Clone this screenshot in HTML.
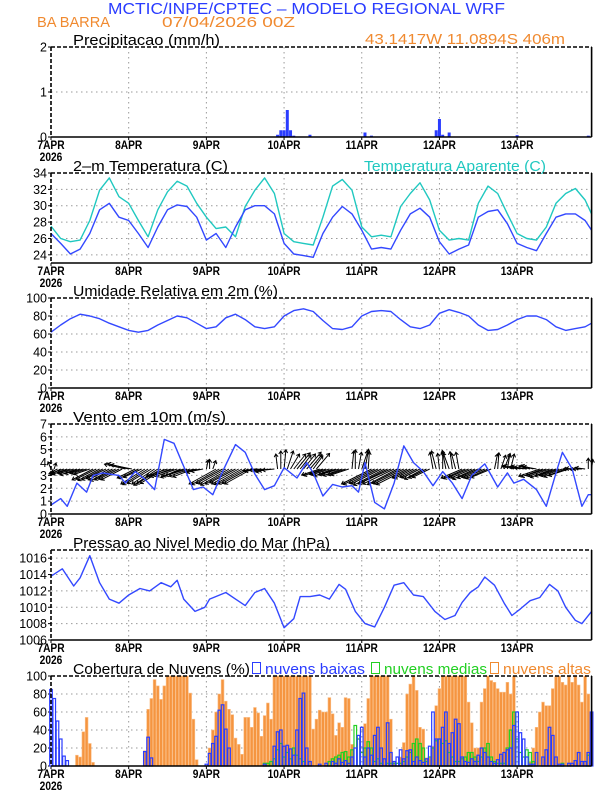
<!DOCTYPE html>
<html><head><meta charset="utf-8"><title>Meteograma WRF</title>
<style>
html,body{margin:0;padding:0;background:#fff}
svg{display:block;font-family:"Liberation Sans",sans-serif}
</style></head>
<body>
<svg id="chart" width="612" height="792" viewBox="0 0 612 792" xmlns="http://www.w3.org/2000/svg">
<rect x="0" y="0" width="612" height="792" fill="#fff"/>
<text x="108" y="14" font-size="16" fill="#2a3cff" textLength="397" lengthAdjust="spacingAndGlyphs">MCTIC/INPE/CPTEC – MODELO REGIONAL WRF</text>
<text x="37" y="27" font-size="15" fill="#f08a30" textLength="73" lengthAdjust="spacingAndGlyphs">BA BARRA</text>
<text x="162" y="27" font-size="15" fill="#f08a30" textLength="133" lengthAdjust="spacingAndGlyphs">07/04/2026 00Z</text>
<text x="73" y="45" font-size="15" fill="#000" textLength="147" lengthAdjust="spacingAndGlyphs">Precipitacao (mm/h)</text>
<text x="365" y="44" font-size="15" fill="#f08a30" textLength="200" lengthAdjust="spacingAndGlyphs">43.1417W 11.0894S 406m</text>
<text x="73" y="171" font-size="15" fill="#000" textLength="155" lengthAdjust="spacingAndGlyphs">2–m Temperatura (C)</text>
<text x="364" y="171" font-size="15" fill="#20c8c0" textLength="182" lengthAdjust="spacingAndGlyphs">Temperatura Aparente (C)</text>
<text x="73" y="296" font-size="15" fill="#000" textLength="205" lengthAdjust="spacingAndGlyphs">Umidade Relativa em 2m (%)</text>
<text x="73" y="422" font-size="15" fill="#000" textLength="153" lengthAdjust="spacingAndGlyphs">Vento em 10m (m/s)</text>
<text x="73" y="548" font-size="15" fill="#000" textLength="257" lengthAdjust="spacingAndGlyphs">Pressao ao Nivel Medio do Mar (hPa)</text>
<text x="73" y="674" font-size="15" fill="#000" textLength="177" lengthAdjust="spacingAndGlyphs">Cobertura de Nuvens (%)</text>
<rect x="252.5" y="662.5" width="8" height="11" fill="none" stroke="#2a3cff"/>
<text x="265" y="674" font-size="15" fill="#2a3cff" textLength="100" lengthAdjust="spacingAndGlyphs">nuvens baixas</text>
<rect x="371.5" y="662.5" width="8" height="11" fill="none" stroke="#22d022"/>
<text x="384" y="674" font-size="15" fill="#22d022" textLength="103" lengthAdjust="spacingAndGlyphs">nuvens medias</text>
<rect x="490.5" y="662.5" width="8" height="11" fill="none" stroke="#f08a30"/>
<text x="503" y="674" font-size="15" fill="#f08a30" textLength="88" lengthAdjust="spacingAndGlyphs">nuvens altas</text>
</svg>
<script>
// ---- data ----
const dayLabels = ['7APR','8APR','9APR','10APR','11APR','12APR','13APR'];
const precipHours = [70,71,72,73,74,75,80,97,99,119,120,121,123,144,166];
const precipValues = [0.05,0.15,0.15,0.6,0.15,0.03,0.05,0.1,0.03,0.15,0.4,0.05,0.1,0.04,0.03];
const lineHours = [0,3,6,9,12,15,18,21,24,27,30,33,36,39,42,45,48,51,54,57,60,63,66,69,72,75,78,81,84,87,90,93,96,99,102,105,108,111,114,117,120,123,126,129,132,135,138,141,144,147,150,153,156,159,162,165,167];
const tempValues = [26.6,25.4,24.1,24.7,26.6,29.5,30.3,28.6,28.2,26.6,24.9,27.4,29.5,30.1,29.9,28.6,25.8,26.6,24.9,27.4,29.5,30,30,29,25.4,24.1,23.9,23.7,26.6,28.6,29.9,29,27,24.7,24.9,24.7,27,29,29.7,28.6,25.6,24.1,24.7,25.2,28.6,29.3,29.5,27.8,25.4,24.9,24.5,26.6,28.6,29,29,28.2,27];
const apparentValues = [27.5,26,25.6,25.8,28.2,31.9,33.4,31.1,30.3,28.2,26.2,29.5,31.7,33,32.4,30.3,28.6,27.2,27.4,26.2,29.9,31.9,33.4,31.5,26.6,25.6,25.4,25.2,28.6,32.4,33.2,31.9,27.4,26.2,26.4,26.2,29.9,31.5,32.8,30.7,27,25.8,26,25.8,30.3,32.4,31.5,29,26.6,26,25.8,27.4,30.3,31.5,32.1,30.7,29];
const humidityValues = [62,70,77,82,80,77,72,68,64,62,64,70,75,80,78,72,66,68,78,82,76,68,66,68,80,86,88,85,75,66,65,68,80,85,86,85,76,68,66,70,83,87,84,80,70,64,65,70,76,80,80,76,68,64,66,68,72];
const windHours = [0,3,5,8,11,13,16,18,21,23,26,29,32,35,38,41,44,47,50,53,57,60,63,66,69,72,76,79,81,84,87,90,93,95,97,100,103,106,109,112,115,118,121,124,127,130,134,138,141,143,146,150,153,156,158,161,164,166,167];
const windSpeed = [0.7,1.2,0.6,2.4,1.7,3.0,3.2,3.1,3.0,2.4,3.3,2.7,1.9,5.8,5.5,3.7,1.9,2.1,1.5,3.3,5.4,4.8,3.1,1.9,2.2,3.6,2.8,4.0,3.2,1.4,2.3,2.1,2.2,1.7,4.0,0.9,0.4,2.4,5.3,4.0,3.3,2.2,3.3,2.4,1.2,3.0,3.9,2.1,3.2,2.4,2.7,1.9,0.6,3.2,4.8,3.5,0.6,1.5,1.5];
const windU = [-0.5,0.3,-1,-1.5,-2.5,-2.5,-2.2,-2.5,-2.8,-2.5,-2.3,-2.5,-2.6,-3.5,-3.4,-3.6,-3.5,-3.3,-3.5,-3.7,-3.5,-3.4,-3.5,-3.5,-3.5,-3.5,-3,-3.2,-3,-4,-4.2,-4,-3.8,-4,-4.1,-4,-3.5,-3.4,-3.6,-3.5,-3.3,-3.5,-3.6,-3.5,-3.4,-2,-2.2,-2,0.3,0,0.5,-4.5,-4.6,-4.4,-4.5,-4.7,-4.5,-4.3,-4.5,-4.6,-4.5,-4.4,-4.5,-2,-2.2,-2,-1.8,-2,-2.1,-2,-0.3,0,0.3,1,1.5,2,2.2,1.8,2,2.4,2,1.6,2.2,-3,-3.2,-2.8,-3,-3.1,-2.9,-3,-3.2,-3,-3,0.3,0,0.5,1,0.6,0.2,-5,-5.2,-4.8,-5,-5.1,-4.9,-5,-5.2,-5,-4.8,-5,-5.1,-3,-3.2,-2.8,-3,-3.1,-3,-2.9,-0.5,-0.8,-0.3,0,-0.6,-1,-0.4,-0.7,-0.5,-3.5,-3.6,-3.4,-3.5,-3.7,-3.5,-3.3,-3.5,-3.6,-3.4,0.5,0.2,0.8,1,0.4,0.6,-2,-2.2,-1.8,-2,-2.1,-1.9,-2,-2.2,-3.5,-3.6,-3.4,-3.5,-3.7,-3.5,-3.3,-3.5,-3.6,-3.4,-1.5,-1.6,-1.4,-1.5,-1.6,0,0.2];
const windV = [1.2,1,-0.5,-0.8,-0.8,-0.9,-0.7,-0.8,-1,-0.8,-0.7,-0.8,-0.9,-1.8,-1.7,-1.9,-1.8,-1.6,-1.8,-2,-1.8,-1.7,-1.8,0.8,0.9,0.7,-1.5,-1.6,-1.4,-2.5,-2.6,-2.4,-2.5,-2.7,-2.5,-2.4,-1.2,-1.3,-1.1,-1.2,-1.4,-1.2,-1.1,-1.2,-1.3,-0.5,-0.6,-0.4,1.5,1.6,1.4,-2.5,-2.6,-2.4,-2.5,-2.7,-2.5,-2.3,-2.5,-2.6,-2.5,-2.4,-2.5,-0.3,-0.4,-0.2,-0.3,-0.5,-0.3,-0.2,2.5,3,3.2,3,2.5,2.5,2.7,2.3,2.5,2.8,2.4,2.2,2.6,-1,-1.1,-0.9,-1,-1.2,-1,-0.9,-1.1,-1,-1,3,3.2,2.8,3,3.3,2.9,-2.5,-2.6,-2.4,-2.5,-2.7,-2.5,-2.3,-2.5,-2.6,-2.4,-2.5,-2.6,-1.5,-1.6,-1.4,-1.5,-1.7,-1.5,-1.4,2.8,3,2.6,2.8,3.1,2.7,2.9,2.6,2.8,-1.5,-1.6,-1.4,-1.5,-1.7,-1.5,-1.4,-1.5,-1.6,-1.4,2.5,2.7,2.3,2.6,2.4,2.5,0.5,0.6,0.4,0.5,0.3,0.5,0.6,0.4,-1.2,-1.3,-1.1,-1.2,-1.4,-1.2,-1.1,-1.2,-1.3,-1.1,0,0.1,-0.1,0,0.2,1.8,1.6];
const pressureHours = [0,3.5,7,9,12,15,18,21,24,27.5,30.5,34,37,39,41,44.5,47.5,49,54,57,60,63,66,69,72,75,77,80,83,86,89,91,94,97,100,103,106,109,112,115,118.6,121.7,124.8,127,129.5,132,134,137,140,142.4,145,148,151,154,156.6,159,162,164,167];
const pressureValues = [1013.8,1014.7,1012.6,1013.6,1016.3,1013,1011,1010.5,1011.5,1012.3,1012,1013,1012.5,1013.3,1011,1009.5,1010,1011,1011.8,1011,1010.2,1011.8,1012.3,1010.5,1007.5,1008.6,1011.3,1011.3,1011.5,1011,1012.8,1012.2,1009.5,1008,1007.6,1010,1012.7,1013,1011.5,1011.3,1009.5,1008.5,1009,1010.6,1011.8,1012.5,1013.7,1012.7,1010.5,1009,1009.8,1010.8,1011.2,1012.8,1012,1010,1008.4,1008,1009.5];
const cloudHigh = [0,0,0,0,0,0,0,0,12,10,38,54,25,4,0,0,0,0,0,0,0,0,0,0,0,0,0,0,0,17,63,75,96,89,74,89,100,100,100,100,100,100,100,81,52,7,0,0,0,20,40,60,80,96,72,63,57,31,24,13,54,54,43,65,59,33,56,70,52,100,100,100,100,100,100,100,100,100,100,100,100,41,52,62,60,60,76,58,34,48,43,76,75,24,0,0,0,47,75,100,100,100,100,100,100,52,4,0,10,26,80,91,100,84,43,41,9,9,22,67,86,100,100,100,100,100,100,100,100,71,48,20,20,71,86,100,95,93,86,82,82,93,80,100,0,0,0,0,5,20,43,60,71,67,67,86,99,100,93,90,100,93,100,90,71,100,80,60];
const cloudMid = [0,0,0,0,0,0,0,0,0,0,0,0,0,0,0,0,0,0,0,0,0,0,0,0,0,0,0,0,0,0,0,0,0,0,0,0,0,0,0,0,0,0,0,0,0,0,0,0,0,0,0,0,0,0,0,0,0,0,0,0,0,0,0,0,0,0,3,3,5,8,18,25,10,15,8,20,12,8,5,0,0,0,0,0,0,0,5,8,10,12,15,16,10,18,45,30,15,20,27,20,5,8,3,0,3,3,3,3,3,5,10,15,25,30,25,20,5,10,20,28,30,25,28,15,10,5,5,8,10,15,15,10,5,10,20,25,10,5,3,3,3,20,40,60,30,15,10,18,15,5,0,0,0,0,0,0,0,0,3,0,0,0,0,0,0,0,12,0];
const cloudLow = [85,75,50,30,11,6,0,0,0,0,0,0,0,0,0,0,0,0,0,0,0,0,0,0,0,0,0,0,0,16,32,9,0,0,0,0,0,0,0,0,0,0,0,0,0,0,0,0,2,14,25,33,62,68,41,20,0,0,0,0,0,0,0,0,0,0,2,0,0,22,38,40,22,23,19,12,40,75,81,20,5,0,0,2,0,3,0,5,3,8,4,6,3,10,20,34,43,10,20,12,34,43,20,8,48,15,5,10,18,8,17,18,5,10,6,4,8,22,60,30,30,43,60,25,37,52,47,10,5,4,8,5,12,20,15,10,5,3,7,13,15,18,20,45,60,37,30,10,2,2,15,0,10,18,43,34,10,2,2,0,3,3,6,15,5,5,15,60];

// ---- layout ----
const svg = document.getElementById('chart');
const NS = 'http://www.w3.org/2000/svg';
const X0 = 51, PXH = 3.237, XEND = 591.6;
function xh(h){ return X0 + h*PXH; }
const panels = {
  precip:{top:47,bot:137,min:0,max:2,ticks:[0,1,2],year:true},
  temp:{top:173,bot:263,min:23,max:34,ticks:[24,26,28,30,32,34],year:true},
  hum:{top:298,bot:388,min:0,max:100,ticks:[0,20,40,60,80,100],year:true},
  wind:{top:424,bot:514,min:0,max:7,ticks:[0,1,2,3,4,5,6,7],year:true},
  pres:{top:550,bot:640,min:1006,max:1017,ticks:[1006,1008,1010,1012,1014,1016],year:true},
  cloud:{top:676,bot:766,min:0,max:100,ticks:[0,20,40,60,80,100],year:true}
};
function ys(p,v){ return p.bot - (v-p.min)/(p.max-p.min)*(p.bot-p.top); }
function mk(tag, attrs){ const e=document.createElementNS(NS,tag); for(const k in attrs) e.setAttribute(k,attrs[k]); svg.appendChild(e); return e; }

function drawAxes(key){
  const p = panels[key];
  p.ticks.forEach(function(t){
    const y = ys(p,t);
    if (t!==p.min && t!==p.max || key==='pres' && t!==p.min){
      const g = mk('line',{x1:X0,x2:XEND,y1:y,y2:y,stroke:'#9a9a9a','stroke-width':1,'stroke-dasharray':'1.5,3.5'});
      
      
    }
    const tk = mk('line',{x1:X0-3,x2:X0,y1:y,y2:y,stroke:'#000','stroke-width':1});
    
    
    const lb = mk('text',{x:X0-4,y:y+4.5,'font-size':12.5,'text-anchor':'end',fill:'#000'});
    lb.textContent = String(t);
    
    
  });
  dayLabels.forEach(function(d,i){
    const x = xh(i*24);
    if (i>0){
      const g = mk('line',{x1:x,x2:x,y1:p.top,y2:p.bot,stroke:'#9a9a9a','stroke-width':1,'stroke-dasharray':'1.5,3.5'});
      
      
    }
    const tk = mk('line',{x1:x,x2:x,y1:p.bot,y2:p.bot+3,stroke:'#000','stroke-width':1});
    
    
    const lb = mk('text',{x:x,y:p.bot+12,'font-size':12,'text-anchor':'middle',fill:'#000','font-weight':'bold',transform:'translate('+x+',0) scale(0.85,1) translate('+(-x)+',0)'});
    lb.textContent = d;
    
    
  });
  const yr = mk('text',{x:X0,y:p.bot+24,'font-size':12,'text-anchor':'middle',fill:'#000','font-weight':'bold',transform:'translate('+X0+',0) scale(0.85,1) translate('+(-X0)+',0)'});
  yr.textContent = '2026';
  
  
}
function drawFrame(key){
  const p = panels[key];
  const t = mk('line',{x1:X0,x2:XEND,y1:p.top,y2:p.top,stroke:'#000','stroke-width':1.6,'stroke-dasharray':'4,2'});
  
  
  const l = mk('line',{x1:X0,x2:X0,y1:p.top,y2:p.bot,stroke:'#000','stroke-width':1.6,'stroke-dasharray':'4,2'});
  
  
  const r = mk('line',{x1:XEND,x2:XEND,y1:p.top,y2:p.bot,stroke:'#000','stroke-width':1.6});
  
  
  const b = mk('line',{x1:X0,x2:XEND,y1:p.bot,y2:p.bot,stroke:'#000','stroke-width':1.6});
  
  
}
function drawLine(key, hours, vals, color, name){
  const p = panels[key];
  const pts = hours.map(function(h,i){ return xh(h).toFixed(1)+','+ys(p,vals[i]).toFixed(1); }).join(' ');
  const pl = mk('polyline',{points:pts,fill:'none',stroke:color,'stroke-width':1.4,'stroke-linejoin':'round'});
  
  
}

Object.keys(panels).forEach(drawAxes);

// precipitation bars
(function(){
  const p = panels.precip;
  precipHours.forEach(function(h,i){
    const y = ys(p,precipValues[i]);
    const r = mk('rect',{x:xh(h)-1.5,y:y,width:3,height:p.bot-y,fill:'#2a3cff'});
    
    
  });
})();

drawLine('temp', lineHours, apparentValues, '#20c8c0', 'apparent-temp-line');
drawLine('temp', lineHours, tempValues, '#3348ff', 'temp-line');
drawLine('hum', lineHours, humidityValues, '#3348ff', 'humidity-line');

// wind arrows
(function(){
  const p = panels.wind;
  const y0 = ys(p,3.5), sc = 6;
  windU.forEach(function(u,h){
    const v = windV[h];
    const x1 = xh(h), x2 = x1 + u*sc, y2 = y0 - v*sc;
    const len = Math.sqrt((x2-x1)*(x2-x1)+(y2-y0)*(y2-y0)) || 1;
    const ux = (x2-x1)/len, uy = (y2-y0)/len;
    const hx1 = x2 - ux*3 - uy*2, hy1 = y2 - uy*3 + ux*2;
    const hx2 = x2 - ux*3 + uy*2, hy2 = y2 - uy*3 - ux*2;
    const a = mk('path',{d:'M'+x1.toFixed(1)+','+y0.toFixed(1)+' L'+x2.toFixed(1)+','+y2.toFixed(1)+' M'+hx1.toFixed(1)+','+hy1.toFixed(1)+' L'+x2.toFixed(1)+','+y2.toFixed(1)+' L'+hx2.toFixed(1)+','+hy2.toFixed(1),fill:'none',stroke:'#000','stroke-width':1});
    
    
  });
})();
drawLine('wind', windHours, windSpeed, '#3348ff', 'wind-speed-line');
drawLine('pres', pressureHours, pressureValues, '#3348ff', 'pressure-line');

// clouds
(function(){
  const p = panels.cloud;
  cloudHigh.forEach(function(v,h){
    if (v<=0) return;
    const y = ys(p,v);
    const r = mk('rect',{x:xh(h)-1.4,y:y,width:2.8,height:p.bot-y,fill:'#f59540',stroke:'#fbc08a','stroke-width':0.6});
    
    
  });
  cloudMid.forEach(function(v,h){
    if (v<=0) return;
    const y = ys(p,v);
    const r = mk('rect',{x:xh(h)-1.3,y:y,width:2.6,height:p.bot-y,fill:'none',stroke:'#22d022','stroke-width':1.2});
    
    
  });
  cloudLow.forEach(function(v,h){
    if (v<=0) return;
    const y = ys(p,v);
    const r = mk('rect',{x:xh(h)-1.3,y:y,width:2.6,height:p.bot-y,fill:'none',stroke:'#2a3cff','stroke-width':1.2});
    
    
  });
})();

Object.keys(panels).forEach(drawFrame);
</script>
</body></html>
